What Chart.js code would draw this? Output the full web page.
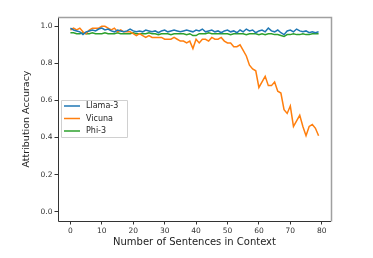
<!DOCTYPE html>
<html>
<head>
<meta charset="utf-8">
<script src="https://cdn.jsdelivr.net/npm/chart.js@4"></script>
<style>
html,body{margin:0;padding:0;background:#fff;}
#wrap{width:373px;height:258px;position:relative;}
</style>
</head>
<body>
<div id="wrap"><canvas id="c" width="373" height="258"></canvas></div>
<script>
const seriesNames = ["Llama-3", "Vicuna", "Phi-3"];
const xValues = Array.from({length: 80}, (_, i) => i);
const llama3 = [0.99,0.98,0.975,0.97,0.955,0.97,0.975,0.98,0.975,0.985,0.99,0.98,0.985,0.975,0.97,0.98,0.975,0.97,0.975,0.985,
  0.975,0.97,0.975,0.97,0.98,0.975,0.97,0.975,0.965,0.975,0.98,0.97,0.975,0.98,0.975,0.97,0.975,0.98,0.975,0.97,
  0.98,0.975,0.985,0.97,0.975,0.98,0.97,0.975,0.965,0.975,0.98,0.97,0.975,0.965,0.98,0.97,0.985,0.975,0.98,0.965,
  0.975,0.98,0.97,0.99,0.975,0.97,0.98,0.965,0.955,0.975,0.98,0.97,0.985,0.975,0.97,0.975,0.965,0.97,0.965,0.97];
const vicuna = [0.98,0.99,0.98,0.99,0.97,0.96,0.98,0.99,0.99,0.99,1.00,1.00,0.99,0.98,0.99,0.97,0.98,0.97,0.97,0.97,
  0.96,0.95,0.96,0.95,0.94,0.95,0.94,0.94,0.94,0.94,0.93,0.93,0.93,0.94,0.93,0.92,0.92,0.91,0.92,0.88,
  0.93,0.91,0.93,0.93,0.92,0.94,0.93,0.93,0.94,0.92,0.91,0.91,0.89,0.89,0.90,0.87,0.84,0.79,0.77,0.76,
  0.67,0.70,0.73,0.68,0.68,0.70,0.65,0.64,0.55,0.53,0.57,0.46,0.49,0.52,0.46,0.41,0.46,0.47,0.45,0.41];
const phi3 = [0.965,0.965,0.96,0.96,0.965,0.96,0.96,0.965,0.96,0.96,0.96,0.965,0.96,0.96,0.96,0.965,0.96,0.96,0.96,0.96,
  0.965,0.96,0.96,0.96,0.96,0.965,0.96,0.96,0.955,0.96,0.96,0.96,0.955,0.96,0.96,0.96,0.96,0.955,0.96,0.95,
  0.95,0.96,0.96,0.96,0.965,0.96,0.96,0.96,0.96,0.96,0.96,0.955,0.96,0.96,0.96,0.96,0.955,0.96,0.96,0.96,
  0.955,0.96,0.955,0.96,0.96,0.955,0.955,0.95,0.945,0.955,0.955,0.96,0.955,0.955,0.96,0.955,0.955,0.96,0.96,0.96];
const xTicks = [0,10,20,30,40,50,60,70,80];
const yTicks = [0.0,0.2,0.4,0.6,0.8,1.0];
const colors = ["#1f77b4", "#ff7f0e", "#2ca02c"];
const allSeries = [llama3, vicuna, phi3];

const PLOT = {left:58, right:331, top:17, bottom:221};
const PAD_LEFT = 21, PAD_BOTTOM = 10;

const framePlugin = {
  id: 'frame',
  afterDatasetsDraw(chart) {
    const ctx = chart.ctx, a = chart.chartArea;
    ctx.save();
    ctx.lineWidth = 1;
    ctx.strokeStyle = '#333';
    ctx.beginPath();
    ctx.moveTo(a.left+0.5, a.top); ctx.lineTo(a.left+0.5, a.bottom+0.5);
    ctx.lineTo(a.right, a.bottom+0.5);
    ctx.stroke();
    ctx.strokeStyle = '#a0a0a0';
    ctx.lineWidth = 1.5;
    ctx.beginPath();
    ctx.moveTo(a.left, a.top+0.5); ctx.lineTo(a.right+0.5, a.top+0.5); ctx.lineTo(a.right+0.5, a.bottom+0.5);
    ctx.stroke();
    // legend
    const lx = 61, ly = 100, lw = 66, lh = 37;
    ctx.fillStyle = 'rgba(255,255,255,0.85)';
    ctx.strokeStyle = '#d0d0d0';
    ctx.lineWidth = 1;
    ctx.beginPath();
    ctx.rect(lx+0.5, ly+0.5, lw, lh);
    ctx.fill(); ctx.stroke();
    ctx.font = '8px "DejaVu Sans"';
    ctx.textBaseline = 'middle';
    seriesNames.forEach((n, i) => {
      const y = ly + 6 + i*12.5;
      ctx.strokeStyle = colors[i];
      ctx.lineWidth = 1.5;
      ctx.beginPath(); ctx.moveTo(64, y); ctx.lineTo(80, y); ctx.stroke();
      ctx.fillStyle = '#222';
      ctx.fillText(n, 86, y);
    });
    ctx.restore();
  }
};

new Chart(document.getElementById('c'), {
  type: 'line',
  data: {
    labels: xValues,
    datasets: allSeries.map((s, i) => ({
      label: seriesNames[i],
      data: s.map((v, j) => ({x: xValues[j], y: v})),
      borderColor: colors[i],
      backgroundColor: colors[i],
      borderWidth: 1.5,
      pointRadius: 0,
      tension: 0,
      fill: false
    }))
  },
  options: {
    responsive: false,
    animation: false,
    events: [],
    layout: {padding: {left: PAD_LEFT, right: 373 - PLOT.right, top: PLOT.top, bottom: PAD_BOTTOM}},
    plugins: {legend: {display: false}, tooltip: {enabled: false}},
    scales: {
      x: {
        type: 'linear',
        min: -3.95, max: 82.95,
        afterBuildTicks(s) { s.ticks = xTicks.map(v => ({value: v})); },
        afterFit(s) { s.height = 258 - PAD_BOTTOM - PLOT.bottom; },
        grid: {drawOnChartArea: false, drawTicks: true, tickLength: 3.5, color: '#333'},
        border: {display: false},
        ticks: {font: {family: 'DejaVu Sans', size: 7.5}, color: '#333', padding: 2, maxRotation: 0,
          callback: v => String(v)},
        title: {display: true, text: 'Number of Sentences in Context', font: {family: 'DejaVu Sans', size: 10}, color: '#222', padding: {top: 1, bottom: 0}}
      },
      y: {
        min: -0.05, max: 1.05,
        afterBuildTicks(s) { s.ticks = yTicks.map(v => ({value: v})); },
        afterFit(s) { s.width = PLOT.left - PAD_LEFT; },
        grid: {drawOnChartArea: false, drawTicks: true, tickLength: 3.5, color: '#333'},
        border: {display: false},
        ticks: {font: {family: 'DejaVu Sans', size: 7.5}, color: '#333', padding: 2,
          callback: v => Number(v).toFixed(1)},
        title: {display: true, text: 'Attribution Accuracy', font: {family: 'DejaVu Sans', size: 9.5}, color: '#222', padding: {top: 0, bottom: 2}}
      }
    }
  },
  plugins: [framePlugin]
});
</script>
</body>
</html>
